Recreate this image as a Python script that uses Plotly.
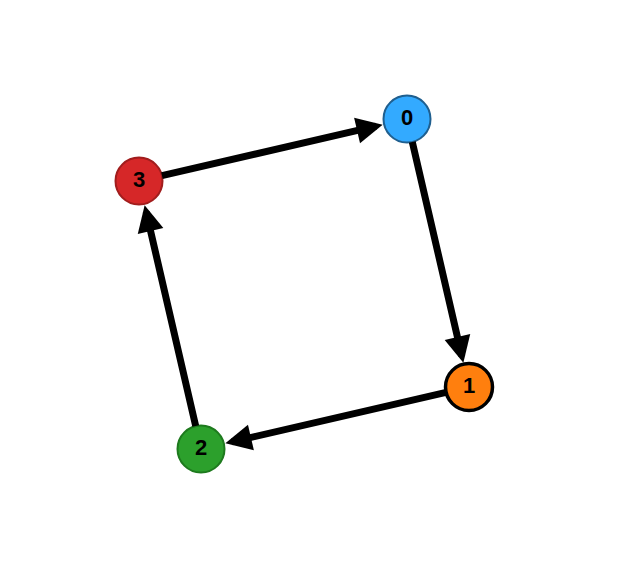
import plotly.graph_objects as go

# node layout (pixel-like coordinates, y grows downwards)
node_ids = ["0", "1", "2", "3"]
node_x = [407, 469, 201, 139]
node_y = [118, 386, 448, 180]
node_fill = ["#33aaff", "#ff7f0e", "#2ca02c", "#d62728"]
node_line = ["#1f5f8f", "#000000", "#1e7a1e", "#a11d1d"]
node_line_w = [2, 3.5, 2, 2]

# directed edges: source -> target
edge_src = [0, 1, 2, 3]
edge_dst = [1, 2, 3, 0]

fig = go.Figure()

for s, t in zip(edge_src, edge_dst):
    fig.add_annotation(
        x=node_x[t], y=node_y[t],
        ax=node_x[s], ay=node_y[s],
        xref="x", yref="y", axref="x", ayref="y",
        text="", showarrow=True,
        arrowhead=2, arrowsize=0.75, arrowwidth=7,
        arrowcolor="black",
        standoff=25, startstandoff=22,
    )

fig.add_trace(
    go.Scatter(
        x=node_x, y=node_y,
        mode="markers+text",
        text=node_ids,
        textposition="middle center",
        textfont=dict(family="Liberation Sans, Arial", size=22, color="black", weight="bold"),
        marker=dict(size=47, color=node_fill, line=dict(color=node_line, width=node_line_w)),
        hoverinfo="text",
        showlegend=False,
    )
)

# the page body adds an 8px offset, so shift the ranges to compensate
fig.update_xaxes(range=[8, 634], visible=False)
fig.update_yaxes(range=[595, 7], visible=False)
fig.update_layout(
    width=626, height=588,
    margin=dict(l=0, r=0, t=0, b=0),
    plot_bgcolor="white", paper_bgcolor="white",
)

fig.write_html("out.html")
